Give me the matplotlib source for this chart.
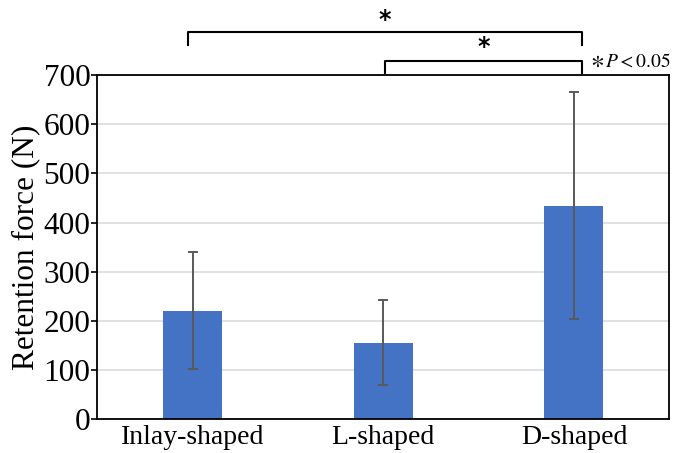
import numpy as np
import matplotlib
matplotlib.use("Agg")
import matplotlib.pyplot as plt

plt.rcParams['font.family'] = ['Liberation Serif', 'DejaVu Serif']
plt.rcParams['mathtext.fontset'] = 'stix'

categories = ["Inlay-shaped", "L-shaped", "D-shaped"]
means = [221, 155, 434]
err_low = [103, 70, 204]
err_high = [341, 242, 665]
y_ticks = [0, 100, 200, 300, 400, 500, 600, 700]

# significance brackets: (start, end, top, tick bottom, star y)
brackets = [(-0.025, 2.043, 788, 761, 812),
            (1.009, 2.043, 729, 705, 757)]

x = np.arange(len(categories))
means = np.array(means)
yerr = [means - np.array(err_low), np.array(err_high) - means]

fig = plt.figure(figsize=(6.73, 4.53), dpi=100)
ax = fig.add_axes([0.1446, 0.0744, 0.8498, 0.760])

ax.bar(x, means, width=0.31, color='#4472C4', zorder=2)
ax.errorbar(x, means, yerr=yerr, fmt='none', ecolor='#595959', elinewidth=1.4,
            capsize=3.5, capthick=1.4, zorder=3)

ax.set_xlim(-0.5, 2.5)
ax.set_ylim(0, 700)
ax.set_yticks(y_ticks)
ax.set_xticks(x)
ax.set_xticklabels(categories)
ax.tick_params(axis='y', labelsize=22.5, length=4, width=1.2, pad=1)
ax.tick_params(axis='x', labelsize=20, length=0, pad=4)
ax.yaxis.grid(True, color='#D9D9D9', linewidth=1.1, zorder=0)
ax.set_axisbelow(True)
for sp in ax.spines.values():
    sp.set_color('black')
    sp.set_linewidth(1.3)

ax.set_ylabel("Retention force (N)", fontsize=22.5)
ax.yaxis.set_label_coords(-0.100, 0.5)

for x0, x1, top, bot, sy in brackets:
    ax.plot([x0, x0, x1, x1], [bot, top, top, bot], color='black', lw=1.5,
            clip_on=False, solid_joinstyle='round')
    ax.text((x0 + x1) / 2, sy, "*", fontsize=17, fontweight='bold',
            family='DejaVu Sans', ha='center', va='center', clip_on=False)

# footnote
ax.text(2.085, 727, r"$\ast$", fontsize=19, ha='left', va='center', clip_on=False)
ax.text(2.165, 727, r"$P < 0.05$", fontsize=14, ha='left', va='center',
        clip_on=False)

fig.savefig("out.png", dpi=100)
